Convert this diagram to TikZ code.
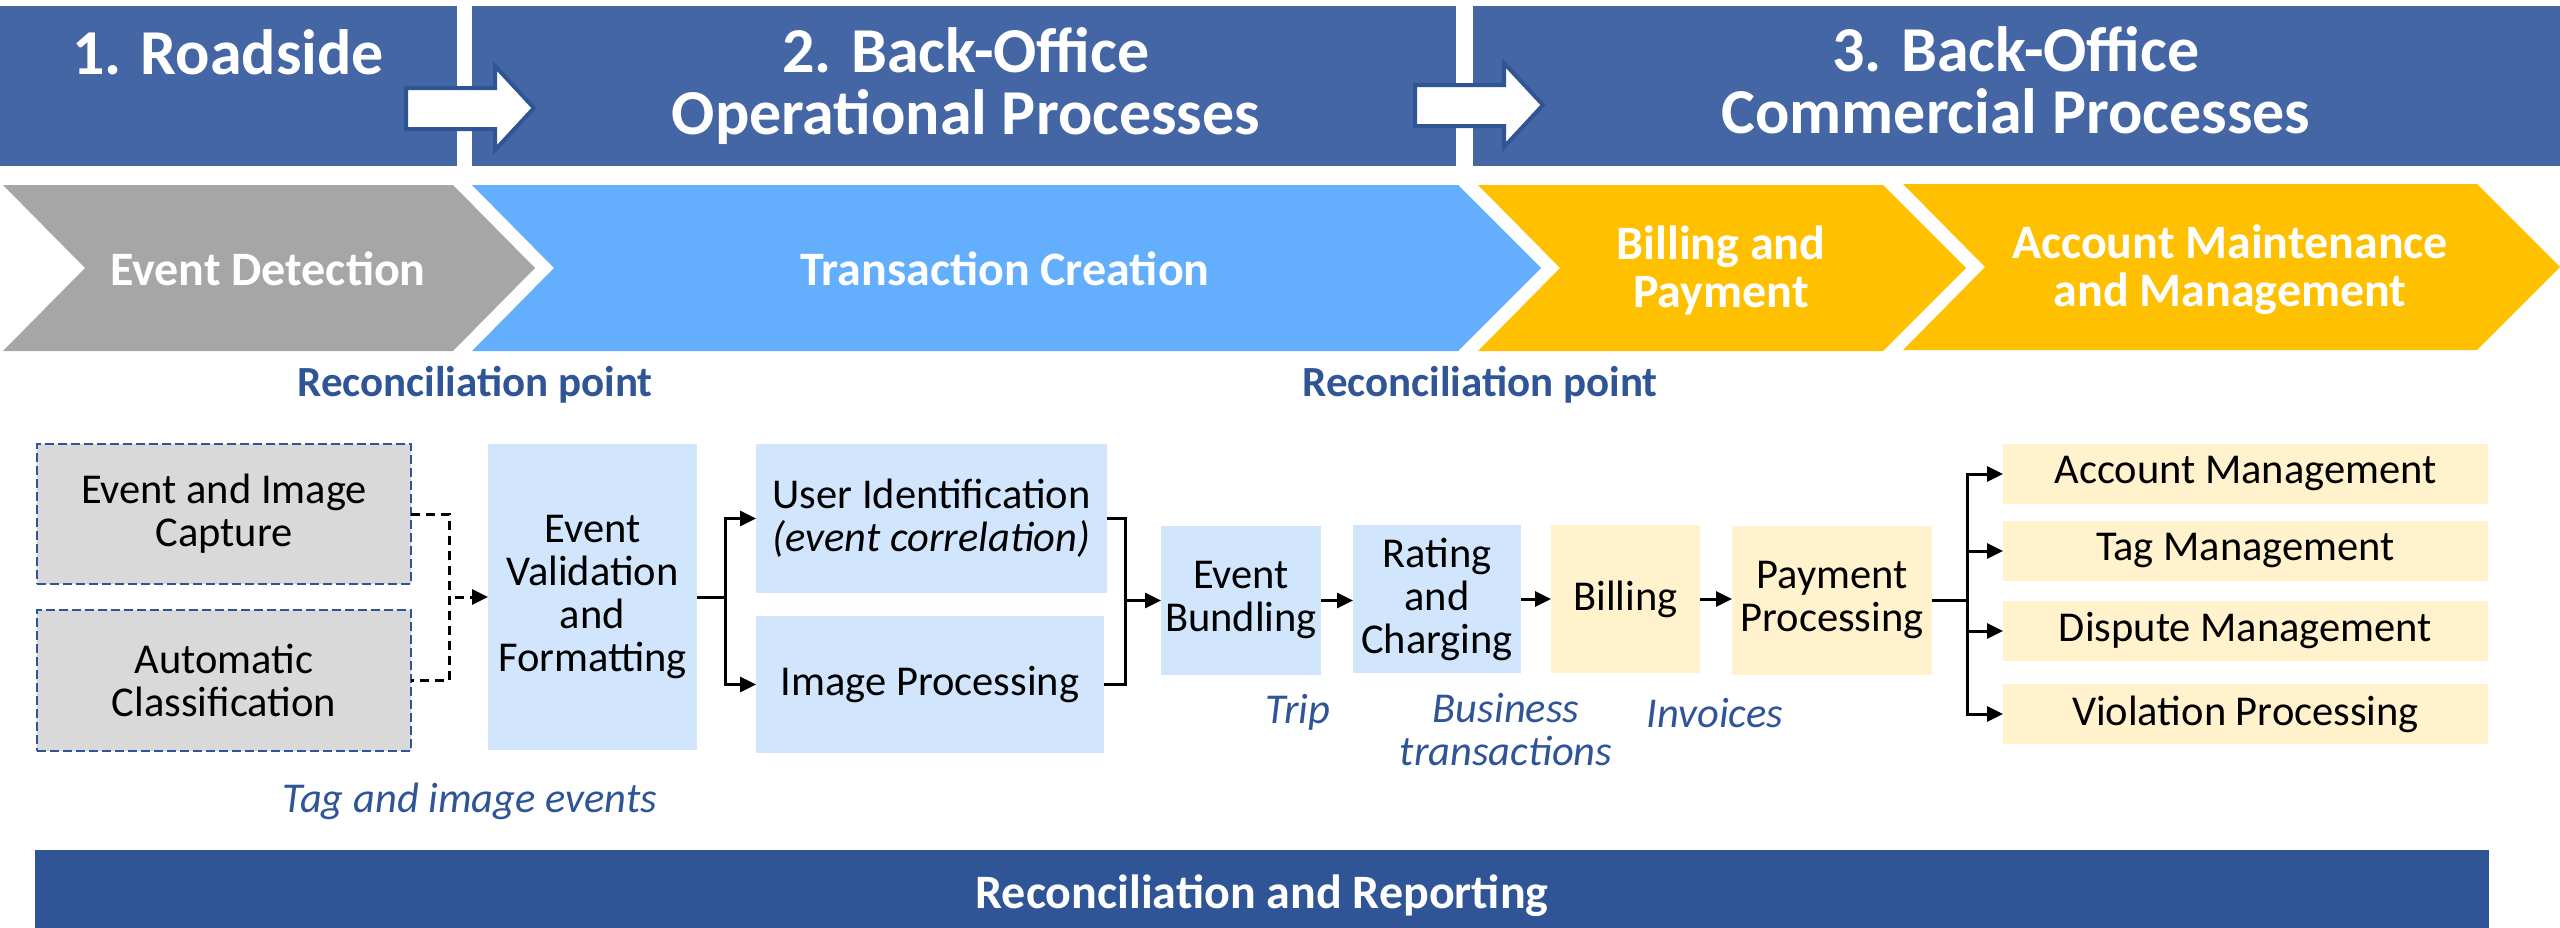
\documentclass[tikz,border=0pt]{standalone}
\usepackage{fontspec}
\setmainfont{Carlito}
\usetikzlibrary{arrows.meta}
\definecolor{hdr}{HTML}{4466A4}
\definecolor{dk}{HTML}{2F5597}
\definecolor{chgray}{HTML}{A6A6A6}
\definecolor{chblue}{HTML}{63AFFE}
\definecolor{chyel}{HTML}{FFC000}
\definecolor{lb}{HTML}{D1E6FC}
\definecolor{lg}{HTML}{D9D9D9}
\definecolor{ly}{HTML}{FFF2CC}
\tikzset{
  bodyfont/.style={font=\fontsize{42.5}{43}\selectfont},
  pbox/.style={inner sep=0pt, outer sep=0pt, align=center, text=black, bodyfont},
  lbbox/.style={pbox, fill=lb},
  lybox/.style={pbox, fill=ly},
  dbox/.style={pbox, fill=lg, draw=dk, line width=2.5pt, dash pattern=on 9pt off 4pt},
  conn/.style={line width=3pt, draw=black},
  arr/.style={conn, -{Triangle[length=16pt,width=15pt]}},
  dconn/.style={conn, dash pattern=on 9pt off 6pt},
  lbl/.style={font=\fontsize{42.5}{43}\selectfont\itshape, text=dk, align=center, inner sep=0pt},
  rp/.style={font=\fontsize{43}{44}\selectfont\bfseries, text=dk, inner sep=0pt},
  hdrtxt/.style={font=\fontsize{64}{62}\selectfont\bfseries, text=white, align=center, inner sep=0pt},
  chtxt/.style={font=\fontsize{48}{48}\selectfont\bfseries, text=white, align=center, inner sep=0pt},
  blockarrow/.style={fill=white, draw=dk, line width=4pt, line join=miter}
}
\begin{document}
\begin{tikzpicture}[x=1pt,y=-1pt]
\useasboundingbox (0,0) rectangle (2560,927);
% header bars
\fill[hdr] (0,6) rectangle (457,166);
\fill[hdr] (472,6) rectangle (1456,166);
\fill[hdr] (1473,6) rectangle (2560,166);
\node[hdrtxt] (h1) at (228,52) {1. Roadside};
\node[hdrtxt] (h2) at (966,86) {2. Back-Office\\Operational Processes};
\node[hdrtxt] (h3) at (2016,80) {3. Back-Office\\Commercial Processes};
% block arrows
\path[blockarrow] (406,88) -- (495,88) -- (495,66) -- (534,108) -- (495,150) -- (495,129) -- (406,129) -- cycle;
\path[blockarrow] (1415,85) -- (1504,85) -- (1504,63) -- (1543,105) -- (1504,147) -- (1504,126) -- (1415,126) -- cycle;
% chevrons
\fill[chgray] (3,185) -- (453,185) -- (535,268) -- (453,351) -- (3,351) -- (85,268) -- cycle;
\fill[chblue] (472,185) -- (1458,185) -- (1541,268) -- (1458,351) -- (472,351) -- (554,268) -- cycle;
\fill[chyel] (1478,185) -- (1883,185) -- (1966,268) -- (1883,351) -- (1478,351) -- (1560,268) -- cycle;
\fill[chyel] (1903,184) -- (2477,184) -- (2560,267) -- (2477,350) -- (1903,350) -- (1985,267) -- cycle;
\node[chtxt] (c1) at (268,269) {Event Detection};
\node[chtxt] (c2) at (1005,269) {Transaction Creation};
\node[chtxt] (c3) at (1721,270) {Billing and\\Payment};
\node[chtxt] (c4) at (2230,269.5) {Account Maintenance\\and Management};
% reconciliation points
\node[rp] (rp1) at (475,385) {Reconciliation point};
\node[rp] (rp2) at (1480,385) {Reconciliation point};
% process boxes
\node[dbox, minimum width=374pt, minimum height=140pt] (eic) at (224,514) {Event and Image\\Capture};
\node[dbox, minimum width=374pt, minimum height=141pt] (ac) at (224,680.5) {Automatic\\Classification};
\node[lbbox, minimum width=209pt, minimum height=306pt] (evf) at (592.5,597) {Event\\Validation\\and\\Formatting};
\node[lbbox, minimum width=351pt, minimum height=149pt] (ui) at (931.5,518.5) {User Identification\\\textit{(event correlation)}};
\node[lbbox, minimum width=348pt, minimum height=137pt] (ip) at (930,684.5) {Image Processing};
\node[lbbox, minimum width=160pt, minimum height=149pt] (eb) at (1241,600.5) {Event\\Bundling};
\node[lbbox, minimum width=168pt, minimum height=148pt] (rc) at (1437,599) {Rating\\and\\Charging};
\node[lybox, minimum width=149pt, minimum height=148pt] (bil) at (1625.5,599) {Billing};
\node[lybox, minimum width=200pt, minimum height=149pt] (pp) at (1832,600.5) {Payment\\Processing};
\node[lybox, minimum width=485pt, minimum height=60pt] (am) at (2245.5,474) {Account Management};
\node[lybox, minimum width=485pt, minimum height=60pt] (tm) at (2245.5,551) {Tag Management};
\node[lybox, minimum width=485pt, minimum height=60pt] (dm) at (2245.5,631) {Dispute Management};
\node[lybox, minimum width=485pt, minimum height=60pt] (vp) at (2245.5,714) {Violation Processing};
% connectors
\coordinate (j1) at (449,597);
\draw[dconn] (eic.east) -| (j1) |- (ac.east);
\draw[dconn, dash phase=9pt, -{Triangle[length=16pt,width=15pt]}] (j1) -- (evf.west);
\coordinate (j2) at (725,597);
\draw[conn] (evf.east) -- (j2);
\draw[arr] (j2) |- (ui.west);
\draw[arr] (j2) |- (ip.west);
\coordinate (j3) at (1125,600.5);
\draw[conn] (ui.east) -| (j3) |- (ip.east);
\draw[arr] (j3) -- (eb.west);
\draw[arr] (eb.east) -- (eb.east -| rc.west);
\draw[arr] (rc.east) -- (rc.east -| bil.west);
\draw[arr] (bil.east) -- (bil.east -| pp.west);
\coordinate (j4) at (1967,600.5);
\draw[conn] (pp.east) -- (j4);
\draw[arr] (j4) |- (am.west);
\draw[arr] (j4) |- (tm.west);
\draw[arr] (j4) |- (dm.west);
\draw[arr] (j4) |- (vp.west);
% data labels
\node[lbl] (l1) at (470,801) {Tag and image events};
\node[lbl] (l2) at (1298,712.5) {Trip};
\node[lbl] (l3) at (1506,729.5) {Business\\transactions};
\node[lbl] (l4) at (1715,713) {Invoices};
% bottom bar
\node[fill=dk, inner sep=0pt, minimum width=2454pt, minimum height=91pt, text=white,
      font=\fontsize{48}{48}\selectfont\bfseries] (rr) at (1262,895.5) {Reconciliation and Reporting};
\end{tikzpicture}
\end{document}
